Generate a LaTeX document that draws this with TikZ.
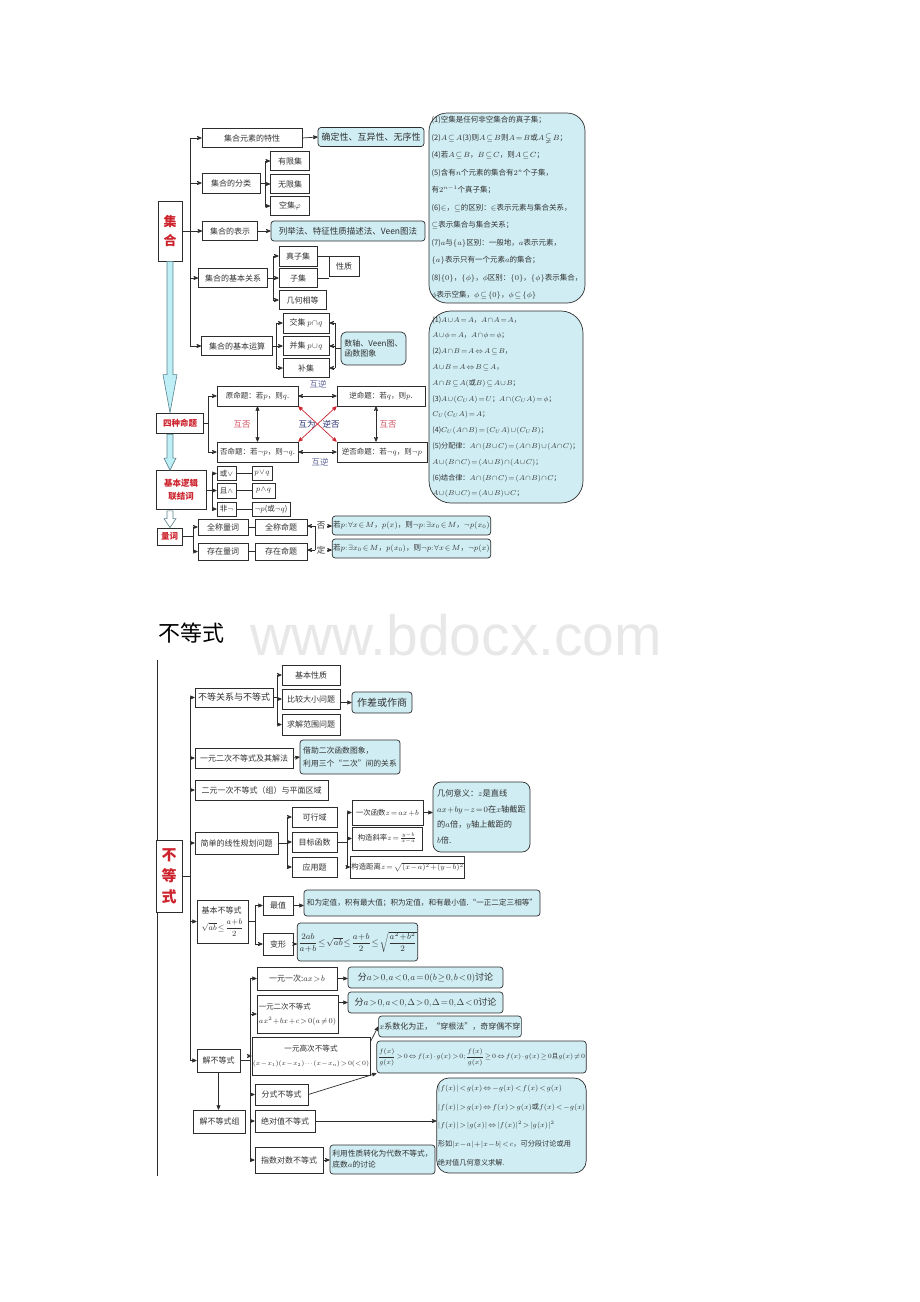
\RequirePackage{fix-cm}
\documentclass[tikz,border=0pt]{standalone}
\usepackage{amsmath}
\usepackage{amssymb}
\usepackage{fontspec}
\setmainfont{Noto Sans CJK SC}
\newfontfamily\wmfont{Liberation Sans}
\usetikzlibrary{arrows,positioning,calc}
\definecolor{linec}{RGB}{45,45,45}
\definecolor{txtc}{RGB}{50,50,50}
\definecolor{bluef}{RGB}{207,237,243}
\definecolor{redc}{RGB}{205,35,45}
\definecolor{nic}{RGB}{95,100,150}
\definecolor{foc}{RGB}{210,80,95}
\definecolor{navc}{RGB}{40,45,110}
\definecolor{arrf}{RGB}{190,238,246}
\definecolor{arrc}{RGB}{90,130,140}
\AtBeginDocument{\thinmuskip=1mu \medmuskip=1mu \thickmuskip=2mu}
\tikzset{wh/.style 2 args={minimum width=#1pt,minimum height=#2pt}}
\tikzset{box/.style={draw=linec,fill=white,inner sep=1pt,text=txtc,font=\fontsize{8}{10}\selectfont}}
\tikzset{bbox/.style={box,fill=bluef,rounded corners=3pt}}
\tikzset{rbox/.style={box,text=redc,font=\fontsize{8.5}{13}\selectfont\bfseries,align=center}}
\tikzset{bigb/.style={bbox,align=left,rounded corners=18pt}}
\tikzset{lbl/.style={inner sep=1pt,text=txtc,font=\fontsize{8.5}{10}\selectfont}}
\tikzset{f75/.style={font=\fontsize{7.5}{9}\selectfont}}
\tikzset{fat/.style={draw=arrc,fill=arrf,line width=0.6pt}}

\begin{document}
\begin{tikzpicture}[x=1pt,y=-1pt,>=stealth',line width=0.7pt,color=linec]
	\useasboundingbox (0,0) rectangle (920,1302);

	% ---- sets ----
	\node[rbox,wh={24}{60},font=\fontsize{13}{19}\selectfont\bfseries] (jh) at (170,231) {集\\合};
	\coordinate (t1) at (190,0);
	\node[box,wh={100}{19}] (ys) at (252,138) {集合元素的特性};
	\node[bbox,wh={106}{19},font=\fontsize{9}{11}\selectfont] (qd) at (371,137) {确定性、互异性、无序性};
	\node[box,wh={58}{20}] (fl) at (231,183) {集合的分类};
	\coordinate (t2) at (265,0);
	\node[box,wh={39}{19}] (yx) at (290,161) {有限集};
	\node[box,wh={39}{19}] (wx) at (290,184) {无限集};
	\node[box,wh={39}{19}] (kj) at (290,206) {空集$\varphi$};
	\node[box,wh={55}{19}] (bs) at (230,231) {集合的表示};
	\node[bbox,wh={154}{20},font=\fontsize{8.5}{10}\selectfont] (lj) at (348,231) {列举法、特征性质描述法、Veen图法};
	\node[box,wh={69}{19}] (gx) at (233,278) {集合的基本关系};
	\coordinate (t3) at (273,0);
	\node[box,wh={38}{20}] (zz) at (298,256) {真子集};
	\node[box,wh={38}{19}] (zj) at (298,278) {子集};
	\node[box,wh={47}{19}] (xd) at (302.5,300) {几何相等};
	\node[box,wh={30}{20}] (xz) at (344,266) {性质};
	\node[box,wh={71}{19}] (ys2) at (237,346) {集合的基本运算};
	\coordinate (t4) at (276,0);
	\node[box,wh={46}{20}] (jj) at (306,323) {交集 $p\cap q$};
	\node[box,wh={46}{19}] (bj) at (306,346) {并集 $p\cup q$};
	\node[box,wh={46}{19}] (bu) at (306,368) {补集};
	\node[bbox,wh={65}{33},rounded corners=5pt,align=left] (sz) at (373.5,348.5) {数轴、Veen图、\\函数图象};
	\coordinate (t5) at (335,0);

	\draw (t1 |- ys.west) -- (t1 |- ys2.west);
	\foreach \n in {ys,fl,gx,ys2} \draw[->] (t1 |- \n.west) -- (\n.west);
	\draw[->] (jh.east) -- (bs.west);
	\draw[->] (ys.east) -- (qd.west);
	\draw (fl.east) -- (t2 |- fl.east);
	\draw (t2 |- yx.west) -- (t2 |- kj.west);
	\foreach \n in {yx,wx,kj} \draw[->] (t2 |- \n.west) -- (\n.west);
	\draw[->] (bs.east) -- (lj.west);
	\draw (gx.east) -- (t3 |- gx.east);
	\draw (t3 |- zz.west) -- (t3 |- xd.west);
	\foreach \n in {zz,zj,xd} \draw[->] (t3 |- \n.west) -- (\n.west);
	\draw (zz.east) -- (zz.east -| xz.west);
	\draw (zj.east) -- (zj.east -| xz.west);
	\draw (ys2.east) -- (t4 |- ys2.east);
	\draw (t4 |- jj.west) -- (t4 |- bu.west);
	\foreach \n in {jj,bj,bu} \draw[->] (t4 |- \n.west) -- (\n.west);
	\draw (sz.west) -- (t5 |- sz.west);
	\draw (t5 |- jj.east) -- (t5 |- bu.east);
	\foreach \n in {jj,bj,bu} \draw[->] (t5 |- \n.east) -- (\n.east);

	% ---- four propositions ----
	\node[rbox,wh={47}{20}] (ym) at (180,423) {四种命题};
	\coordinate (t6) at (208,0);
	\node[box,wh={81}{20},f75] (yuan) at (257.5,396) {原命题：若$p$，则$q$.};
	\node[box,wh={88}{20},f75] (ni) at (381,396) {逆命题：若$q$，则$p$.};
	\node[box,wh={81}{20},f75] (fou) at (257.5,452) {否命题：若$\neg p$，则$\neg q$.};
	\node[box,wh={90}{20},f75] (nf) at (382,452) {逆否命题：若$\neg q$，则$\neg p$};
	\draw (ym.east) -- (t6 |- ym.east);
	\draw (t6 |- yuan.west) -- (t6 |- fou.west);
	\draw[->] (t6 |- yuan.west) -- (yuan.west);
	\draw[->] (t6 |- fou.west) -- (fou.west);
	\draw[<->] (yuan.east) -- (ni.west);
	\draw[<->] (fou.east) -- (nf.west);
	\draw[<->] (yuan.south) -- (fou.north);
	\draw[<->] ([xshift=-5pt]ni.south) -- ([xshift=-6pt]nf.north);
	\draw[<->,redc] (yuan.south east) -- (nf.north west);
	\draw[<->,redc] (fou.north east) -- (ni.south west);
	\node[lbl,text=nic] (hn1) at (318,384) {互逆};
	\node[lbl,text=nic] (hn2) at (320,462) {互逆};
	\node[lbl,text=foc] (hf1) at (242,425) {互否};
	\node[lbl,text=foc] (hf2) at (388,425) {互否};
	\node[lbl,text=navc] (hw) at (307,424) {互为};
	\node[lbl,text=navc] (nfl) at (331,424) {逆否};

	% ---- connectives ----
	\node[rbox,wh={50}{39}] (lj2) at (181,490) {基本逻辑\\联结词};
	\coordinate (t7) at (212,0);
	\node[box,wh={19}{14},f75] (hu) at (226.5,473.5) {或$\vee$};
	\node[box,wh={19}{15},f75] (qie) at (226.5,490.5) {且$\wedge$};
	\node[box,wh={19}{14},f75] (fei) at (226.5,509) {非$\neg$};
	\node[box,wh={20}{14},f75] (pq1) at (262,473.5) {$p\vee q$};
	\node[box,wh={23}{15},f75] (pq2) at (263.5,490.5) {$p\wedge q$};
	\node[box,wh={38}{14},f75] (pq3) at (271,509) {$\neg p$(或$\neg q$)};
	\draw (lj2.east) -- (t7 |- lj2.east);
	\draw (t7 |- hu.west) -- (t7 |- fei.west);
	\foreach \n in {hu,qie,fei} \draw[->] (t7 |- \n.west) -- (\n.west);
	\draw (hu) -- (pq1);
	\draw (qie) -- (pq2);
	\draw (fei) -- (pq3);

	% ---- quantifiers ----
	\node[rbox,wh={25}{17}] (lc) at (169.5,536.5) {量词};
	\coordinate (t8) at (193,0);
	\node[box,wh={50}{16}] (qc) at (223,527) {全称量词};
	\node[box,wh={50}{17}] (cz) at (223,551.5) {存在量词};
	\node[box,wh={52}{16}] (qm) at (281,527) {全称命题};
	\node[box,wh={52}{17}] (cm) at (281,551.5) {存在命题};
	\node[lbl] (fz) at (321,526) {否};
	\node[lbl] (dz) at (321,550) {定};
	\node[bbox,wh={157}{19},f75] (q1) at (411.5,525.5) {若$p{:}\,\forall x\in M$，$p(x)$，则$\neg p{:}\,\exists x_0\in M$，$\neg p(x_0)$};
	\node[bbox,wh={157}{19},f75] (q2) at (411.5,548.5) {若$p{:}\,\exists x_0\in M$，$p(x_0)$，则$\neg p{:}\,\forall x\in M$，$\neg p(x)$};
	\draw (lc.east) -- (t8 |- lc.east);
	\draw (t8 |- qc.west) -- (t8 |- cz.west);
	\draw[->] (t8 |- qc.west) -- (qc.west);
	\draw[->] (t8 |- cz.west) -- (cz.west);
	\draw (qc) -- (qm);
	\draw (cz) -- (cm);
	\draw (fz.west) -- (dz.west);
	\draw[->] (fz.west) -- (fz.west -| qm.east);
	\draw[->] (dz.west) -- (dz.west -| cm.east);
	\draw[->] (fz.east) -- (fz.east -| q1.west);
	\draw[->] (dz.east) -- (dz.east -| q2.west);

	% hollow arrows
	\draw[fat] ($(jh.south)+(-3,0)$) -- ($(jh.south |- ym.north)+(-3,-38)$) -- ($(jh.south |- ym.north)+(-7,-38)$) -- (jh.south |- ym.north) -- ($(jh.south |- ym.north)+(7,-38)$) -- ($(jh.south |- ym.north)+(3,-38)$) -- ($(jh.south)+(3,0)$) -- cycle;
	\draw[fat] ($(jh.south |- ym.south)+(-3,1)$) -- ($(jh.south |- lj2.north)+(-3,-12)$) -- ($(jh.south |- lj2.north)+(-6,-12)$) -- (jh.south |- lj2.north) -- ($(jh.south |- lj2.north)+(6,-12)$) -- ($(jh.south |- lj2.north)+(3,-12)$) -- ($(jh.south |- ym.south)+(3,1)$) -- cycle;
	\draw[fat,fill=white] ($(jh.south |- lj2.south)+(-3,1)$) -- ($(jh.south |- lc.north)+(-3,-9)$) -- ($(jh.south |- lc.north)+(-6,-9)$) -- (jh.south |- lc.north) -- ($(jh.south |- lc.north)+(6,-9)$) -- ($(jh.south |- lc.north)+(3,-9)$) -- ($(jh.south |- lj2.south)+(3,1)$) -- cycle;

	% right boxes
	\node[bigb,wh={156}{190},font=\fontsize{7.5}{17.5}\selectfont] (ka) at (507,208) {(1)空集是任何非空集合的真子集；\\(2)$A\subseteq A$(3)则$A\subseteq B$则$A=B$或$A\subsetneqq B$；\\(4)若$A\subseteq B$，$B\subseteq C$，则$A\subseteq C$；\\(5)含有$n$个元素的集合有$2^n$个子集，\\有$2^{n-1}$个真子集；\\(6)$\in$，$\subseteq$的区别：$\in$表示元素与集合关系，\\$\subseteq$表示集合与集合关系；\\(7)$a$与$\{a\}$区别：一般地，$a$表示元素，\\$\{a\}$表示只有一个元素$a$的集合；\\(8)$\{0\}$，$\{\phi\}$，$\phi$区别：$\{0\}$，$\{\phi\}$表示集合，\\$\phi$表示空集，$\phi\subseteq\{0\}$，$\phi\subseteq\{\phi\}$};
	\node[bigb,wh={154}{192},rounded corners=22pt,font=\fontsize{7.1}{15.8}\selectfont] (kb) at (506,407) {(1)$A\cup A=A$，$A\cap A=A$，\\$A\cup\phi=A$，$A\cap\phi=\phi$；\\(2)$A\cap B=A\Leftrightarrow A\subseteq B$，\\$A\cup B=A\Leftrightarrow B\subseteq A$，\\$A\cap B\subseteq A($或$B)\subseteq A\cup B$；\\(3)$A\cup(C_UA)=U$；$A\cap(C_UA)=\phi$；\\$C_U(C_UA)=A$；\\(4)$C_U(A\cap B)=(C_UA)\cup(C_UB)$；\\(5)分配律：$A\cap(B\cup C)=(A\cap B)\cup(A\cap C)$；\\$A\cup(B\cap C)=(A\cup B)\cap(A\cup C)$；\\(6)结合律：$A\cap(B\cap C)=(A\cap B)\cap C$；\\$A\cup(B\cup C)=(A\cup B)\cup C$；};

	% ---- inequalities ----
	\node[inner sep=0,text=black,font=\fontsize{22}{24}\selectfont] (bt) at (191,633) {不等式};
	\node[inner sep=0,text=gray!18,anchor=base west,font=\wmfont\fontsize{57}{60}\selectfont] (wm) at (250,655) {www.bdocx.com};
	\draw[line width=0.6pt] (157,660) -- (157,1176);

	\node[rbox,wh={26}{72},font=\fontsize{15}{21}\selectfont\bfseries] (bdq) at (169,876) {不\\等\\式};
	\coordinate (u1) at (190,0);
	\node[box,wh={78}{19},font=\fontsize{9}{11}\selectfont] (b1) at (234,697.5) {不等关系与不等式};
	\node[box,wh={98}{20}] (b2) at (244,758) {一元二次不等式及其解法};
	\node[box,wh={133}{20}] (b3) at (261.5,790) {二元一次不等式（组）与平面区域};
	\node[box,wh={83}{22}] (b4) at (236.5,843) {简单的线性规划问题};
	\node[box,wh={51}{43},align=left,font=\fontsize{8}{17}\selectfont] (b5) at (222.5,921.5) {基本不等式\\$\sqrt{ab}\le\dfrac{a+b}{2}$};
	\node[box,wh={43}{23}] (b6) at (218.5,1060.5) {解不等式};
	\draw (u1 |- b1.west) -- (u1 |- b6.west);
	\foreach \n in {b1,b2,b3,b4,b5,b6} \draw[->] (u1 |- \n.west) -- (\n.west);
	\draw (bdq.east) -- (u1 |- bdq.east);

	\coordinate (u2) at (277,0);
	\node[box,wh={58}{20}] (c1) at (311,675) {基本性质};
	\node[box,wh={58}{20}] (c2) at (311,699) {比较大小问题};
	\node[box,wh={58}{21}] (c3) at (311,724.5) {求解范围问题};
	\node[bbox,wh={60}{21},font=\fontsize{10}{12}\selectfont] (c4) at (382,702.5) {作差或作商};
	\draw (b1.east) -- (u2 |- b1.east);
	\draw (u2 |- c1.west) -- (u2 |- c3.west);
	\foreach \n in {c1,c2,c3} \draw[->] (u2 |- \n.west) -- (\n.west);
	\draw[->] (c4.west -| c2.east) -- (c4.west);
	\node[bbox,wh={100}{34},align=left,font=\fontsize{7.8}{13}\selectfont] (c5) at (350,757) {借助二次函数图象，\\利用三个“二次”间的关系};
	\draw[->] (b2.east) -- (c5.west);

	\coordinate (u3) at (287,0);
	\node[box,wh={45}{20}] (d1) at (314.5,817) {可行域};
	\node[box,wh={45}{20}] (d2) at (314.5,842) {目标函数};
	\node[box,wh={45}{20}] (d3) at (314.5,867) {应用题};
	\draw (b4.east) -- (u3 |- b4.east);
	\draw (u3 |- d1.west) -- (u3 |- d3.west);
	\foreach \n in {d1,d2,d3} \draw[->] (u3 |- \n.west) -- (\n.west);
	\coordinate (u4) at (347,0);
	\node[box,wh={71}{25},font=\fontsize{7.4}{9}\selectfont] (e1) at (387.5,812.5) {一次函数$z=ax+b$};
	\node[box,wh={70}{23},font=\fontsize{7.4}{9}\selectfont] (e2) at (387,838.5) {构造斜率$z=\frac{y-b}{x-a}$};
	\node[box,wh={111}{22},font=\fontsize{7.4}{9}\selectfont] (e3) at (407.5,867) {构造距离$z=\sqrt{(x-a)^2+(y-b)^2}$};
	\draw (d2.east) -- (u4 |- d2.east);
	\draw (u4 |- e1.west) -- (u4 |- e3.west);
	\foreach \n in {e1,e2,e3} \draw[->] (u4 |- \n.west) -- (\n.west);
	\node[bbox,wh={97}{70},align=left,rounded corners=8pt,font=\fontsize{8.2}{15.5}\selectfont] (e4) at (481.5,817) {几何意义：$z$是直线\\$ax+by-z=0$在$x$轴截距\\的$a$倍，$y$轴上截距的\\$b$倍.};
	\draw[->] (e1.east) -- (e1.east -| e4.west);

	\coordinate (u5) at (255,0);
	\node[box,wh={30}{19}] (f1) at (278,905.5) {最值};
	\node[box,wh={30}{22}] (f2) at (278,944) {变形};
	\node[bbox,wh={236}{26},font=\fontsize{7.6}{9}\selectfont] (f3) at (422,903) {和为定值，积有最大值；积为定值，和有最小值.“一正二定三相等”};
	\node[bbox,wh={107}{38},font=\fontsize{8.5}{10}\selectfont] (f4) at (357.5,942) {$\dfrac{2ab}{a+b}\le\sqrt{ab}\le\dfrac{a+b}{2}\le\sqrt{\dfrac{a^2+b^2}{2}}$};
	\draw (b5.east) -- (u5 |- b5.east);
	\draw (u5 |- f1.west) -- (u5 |- f2.west);
	\foreach \n in {f1,f2} \draw[->] (u5 |- \n.west) -- (\n.west);
	\draw[->] (f1.east) -- (f1.east -| f3.west);
	\draw[->] (f2.east) -- (f2.east -| f4.west);

	\node[box,wh={52}{23}] (g) at (219.5,1121.5) {解不等式组};
	\draw[->] (b6.south) -- (b6.south |- g.north);
	\coordinate (u6) at (250,0);
	\node[box,wh={80}{23}] (h1) at (297,978.5) {一元一次:$ax>b$};
	\node[box,wh={81}{38},align=left,font=\fontsize{7.4}{14}\selectfont] (h2) at (297.5,1014) {一元二次不等式\\$ax^2+bx+c>0(a\neq0)$};
	\node[box,wh={112}{38},align=center,font=\fontsize{7.6}{14}\selectfont] (h3) at (311,1056) {一元高次不等式\\{\fontsize{6.4}{8}\selectfont$(x-x_1)(x-x_2)\cdots(x-x_n)>0(<0)$}};
	\node[box,wh={53}{21}] (h4) at (281.5,1094.5) {分式不等式};
	\node[box,wh={60}{22}] (h5) at (285,1121) {绝对值不等式};
	\node[box,wh={68}{26}] (h6) at (289,1160) {指数对数不等式};
	\draw (b6.east) -- (u6 |- b6.east);
	\draw (u6 |- h1.west) -- (u6 |- h6.west);
	\foreach \n in {h1,h2,h3,h4,h5,h6} \draw[->] (u6 |- \n.west) -- (\n.west);

	\node[bbox,wh={155}{21},font=\fontsize{9}{11}\selectfont] (i1) at (425.5,977.5) {分$a>0,a<0,a=0(b\ge0,b<0)$讨论};
	\node[bbox,wh={155}{21},font=\fontsize{9}{11}\selectfont] (i2) at (425.5,1002.5) {分$a>0,a<0,\Delta>0,\Delta=0,\Delta<0$讨论};
	\node[bbox,wh={136}{21}] (i3) at (450,1026.5) {$x$系数化为正，“穿根法”，奇穿偶不穿};
	\node[bbox,wh={207}{32},font=\fontsize{6.5}{9}\selectfont] (i4) at (481.5,1057) {$\dfrac{f(x)}{g(x)}>0\Leftrightarrow f(x)\cdot g(x)>0;\dfrac{f(x)}{g(x)}\ge0\Leftrightarrow f(x)\cdot g(x)\ge0$且$g(x)\neq0$};
	\node[bbox,wh={147}{95},align=left,rounded corners=12pt,font=\fontsize{7.2}{18.8}\selectfont] (i5) at (511.5,1125.5) {$|f(x)|<g(x)\Leftrightarrow -g(x)<f(x)<g(x)$\\$|f(x)|>g(x)\Leftrightarrow f(x)>g(x)$或$f(x)<-g(x)$\\$|f(x)|>|g(x)|\Leftrightarrow|f(x)|^2>|g(x)|^2$\\形如$|x-a|+|x-b|<c$，可分段讨论或用\\绝对值几何意义求解.};
	\node[bbox,wh={105}{29},align=left,font=\fontsize{7.7}{11}\selectfont] (i6) at (382.5,1159.5) {利用性质转化为代数不等式，\\底数$a$的讨论};
	\draw[->] (h1.east) -- (h1.east -| i1.west);
	\draw[->] (i2.west -| h2.east) -- (i2.west);
	\draw[->] ([yshift=-5pt]h3.north east) -- (i3.west);
	\draw[->] (h4.east) -- (i4.south west);
	\draw[->] (h5.east) -- (h5.east -| i5.west);
	\draw[->] (h6.east) -- (h6.east -| i6.west);
\end{tikzpicture}
\end{document}
